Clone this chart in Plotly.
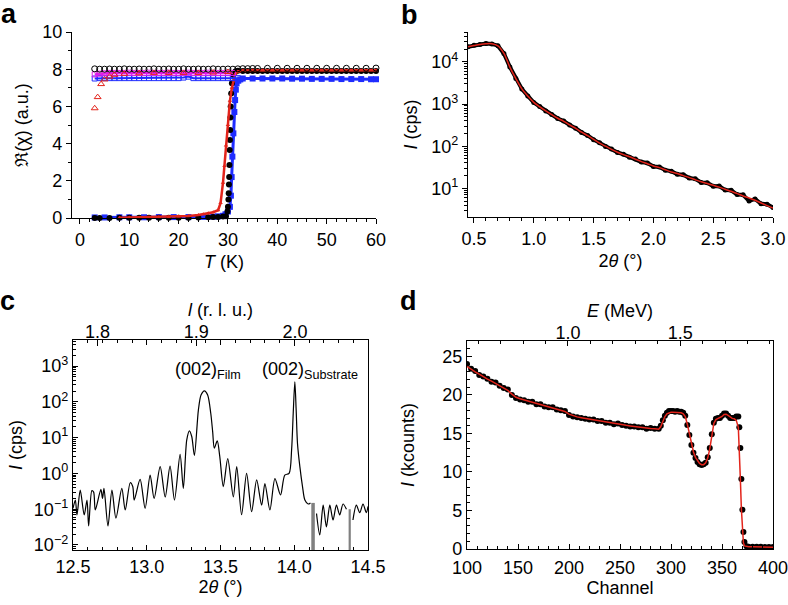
import plotly.graph_objects as go

# ---------------- Panel a: susceptibility vs T ----------------
a_blk_open_T = [3, 4, 5, 6, 7, 8, 9, 10, 11, 12, 13, 14, 15, 16, 17, 18, 19, 20, 21, 22, 23, 24, 25, 26, 27,
                28, 29, 30, 31, 32, 33, 34, 35, 36, 38, 40, 42, 44, 46, 48, 50, 52, 54, 56, 58, 60]
a_blk_open_v = [8.02, 8.0, 8.0, 8.01, 8.0, 8.0, 8.02, 8.0, 8.0, 8.01, 8.0, 8.0, 8.02, 8.0, 8.0, 8.01, 8.0, 8.0,
                8.02, 8.0, 8.0, 8.01, 8.0, 8.0, 8.02, 8.0, 8.0, 8.01, 8.0, 8.02, 8.03, 8.03, 8.04, 8.04, 8.05,
                8.05, 8.05, 8.05, 8.05, 8.05, 8.05, 8.05, 8.05, 8.05, 8.05, 8.06]

a_mag_T = [3, 4, 5, 6, 7, 8, 9, 10, 11, 12, 13, 14, 15, 16, 17, 18, 19, 20, 21, 22, 23, 24, 25, 26, 27, 28, 29, 30, 31]
a_mag_v = [7.72, 7.76, 7.78, 7.8, 7.8, 7.8, 7.8, 7.81, 7.8, 7.8, 7.8, 7.81, 7.8, 7.8, 7.8, 7.81, 7.8, 7.8, 7.8,
           7.81, 7.8, 7.8, 7.8, 7.81, 7.8, 7.8, 7.8, 7.81, 7.8]

a_blue_open_T = [3, 4, 5, 6, 7, 8, 9, 10, 11, 12, 13, 14, 15, 16, 17, 18, 19, 20, 21, 22, 23, 24, 25, 26, 27, 28, 29, 30, 31, 32]
a_blue_open_v = [7.5, 7.52, 7.52, 7.52, 7.52, 7.52, 7.52, 7.52, 7.52, 7.52, 7.52, 7.52, 7.52, 7.52, 7.52, 7.52,
                 7.52, 7.52, 7.55, 7.6, 7.52, 7.52, 7.52, 7.52, 7.52, 7.52, 7.52, 7.52, 7.52, 7.52]

a_red_tri_T = [3.0, 3.6, 4.3, 5.0, 6.0, 7.0, 9.0, 12.0, 15.0, 18.0, 21.0, 24.0, 27.0, 30.0]
a_red_tri_v = [5.9, 6.5, 7.2, 7.45, 7.6, 7.7, 7.75, 7.78, 7.8, 7.8, 7.8, 7.8, 7.82, 7.85]

a_blk_T = [3, 4, 6, 8, 10, 12, 14, 16, 18, 20, 22, 24, 26, 27, 28, 29, 29.6, 29.9, 30.0, 30.1, 30.15, 30.2,
           30.25, 30.3, 30.35, 30.4, 30.45, 30.5, 30.55, 30.65, 30.8, 31.1, 31.5, 32, 33, 34, 35, 36, 37, 38,
           39, 40, 41, 42, 43, 44, 45, 46, 47, 48, 49, 50, 51, 52, 53, 54, 55, 56, 57, 58, 59, 60]
a_blk_v = [0.0, 0.0, 0.0, 0.01, 0.01, 0.01, 0.01, 0.02, 0.02, 0.02, 0.02, 0.03, 0.04, 0.05, 0.06, 0.08, 0.1,
           0.35, 0.6, 1.0, 1.33, 1.8, 2.2, 2.85, 3.66, 4.2, 4.73, 5.4, 6.0, 6.7, 7.24, 7.69, 7.88, 7.92, 7.9,
           7.9, 7.9, 7.9, 7.9, 7.9, 7.9, 7.9, 7.9, 7.9, 7.9, 7.9, 7.9, 7.9, 7.9, 7.9, 7.9, 7.9, 7.9, 7.9,
           7.9, 7.9, 7.9, 7.9, 7.9, 7.9, 7.9, 7.9]

a_red_T = [8, 10, 12, 14, 16, 18, 20, 22, 24, 25, 26, 27, 28, 28.5, 29, 29.3, 29.6, 30, 30.4, 30.8, 31.1,
           31.5, 32, 33, 35, 37, 39, 41, 43, 45, 47, 49, 51, 53, 55, 57, 59, 60]
a_red_v = [0.02, 0.03, 0.03, 0.04, 0.05, 0.06, 0.08, 0.11, 0.16, 0.2, 0.25, 0.31, 0.42, 0.8, 1.9, 2.8, 3.9,
           5.0, 6.3, 7.0, 7.4, 7.75, 7.88, 7.93, 7.95, 7.95, 7.95, 7.95, 7.95, 7.95, 7.95, 7.95, 7.95, 7.95,
           7.95, 7.95, 7.95, 7.95]

a_blue_T = [3, 5, 8, 10, 13, 16, 19, 22, 25, 27, 28, 29, 29.5, 30, 30.4, 30.6, 30.75, 30.9, 31.1, 31.3,
            31.45, 31.6, 31.75, 32.1, 32.5, 33, 35, 37, 39, 41, 43, 45, 47, 49, 51, 53, 55, 57, 59, 60]
a_blue_v = [0.03, 0.03, 0.04, 0.04, 0.04, 0.05, 0.05, 0.05, 0.06, 0.07, 0.09, 0.12, 0.2, 0.35, 0.6, 1.2,
            2.2, 3.3, 4.55, 5.7, 6.34, 6.9, 7.24, 7.38, 7.45, 7.5, 7.5, 7.5, 7.5, 7.5, 7.49, 7.49, 7.48,
            7.48, 7.48, 7.47, 7.47, 7.47, 7.46, 7.46]

# ---------------- Panel b: reflectivity ----------------
b_theta = [0.45, 0.50, 0.55, 0.60, 0.65, 0.70, 0.75, 0.80, 0.85, 0.90, 0.95, 1.00, 1.05, 1.10, 1.15, 1.20,
           1.25, 1.30, 1.35, 1.40, 1.45, 1.50, 1.55, 1.60, 1.65, 1.70, 1.75, 1.80, 1.85, 1.90, 1.95, 2.00,
           2.05, 2.10, 2.15, 2.20, 2.25, 2.30, 2.35, 2.40, 2.45, 2.50, 2.55, 2.60, 2.65, 2.70, 2.75, 2.80,
           2.85, 2.90, 2.95, 3.00]
b_fit = [23000, 24500, 26000, 27000, 27000, 24000, 16000, 7500, 4000, 2300, 1550, 1100, 860, 690, 560, 460,
         390, 320, 265, 215, 178, 145, 118, 100, 84, 72, 63, 56, 49, 43, 38.5, 34, 31, 27.5, 24.5, 22.5,
         20, 18, 16, 14.3, 13, 11.8, 10.7, 9.5, 8.5, 7.5, 6.6, 5.9, 5.2, 4.5, 3.9, 3.4]
b_data = [22800, 24700, 26000, 27200, 26800, 24300, 15800, 7600, 4050, 2280, 1560, 1090, 870, 680, 565, 455,
          395, 318, 268, 212, 180, 143, 120, 98, 86, 71, 64, 55, 50, 42, 40, 33, 32, 27, 25.5, 21.5, 21,
          17.5, 16.8, 13.8, 13.6, 11.2, 11.3, 9.1, 9.0, 7.1, 7.0, 5.0, 5.6, 4.3, 4.2, 3.5]

# ---------------- Panel c: XRD ----------------
c_2theta = [12.500, 12.516, 12.527, 12.549, 12.576, 12.595, 12.606, 12.628, 12.640, 12.651, 12.689, 12.700,
            12.710, 12.737, 12.764, 12.791, 12.831, 12.854, 12.888, 12.905, 12.915, 12.955, 12.989, 13.023,
            13.050, 13.091, 13.125, 13.158, 13.188, 13.226, 13.248, 13.271, 13.289, 13.305, 13.323, 13.350,
            13.368, 13.391, 13.413, 13.434, 13.447, 13.458, 13.478, 13.495, 13.519, 13.549, 13.587, 13.610,
            13.643, 13.677, 13.711, 13.745, 13.779, 13.801, 13.835, 13.869, 13.907, 13.936, 13.965, 13.982,
            13.993, 14.004, 14.013, 14.022, 14.038, 14.056, 14.072, 14.094, 14.110, 14.123, 14.132, 14.151,
            14.173, 14.196, 14.218, 14.241, 14.263, 14.286, 14.308, 14.331, 14.354, 14.376, 14.398, 14.421,
            14.444, 14.466, 14.489, 14.500]
c_I = [0.106, 0.18, 0.069, 0.34, 0.069, 0.18, 0.034, 0.33, 0.30, 0.095, 0.36, 0.20, 0.38, 0.034, 0.34, 0.056,
       0.38, 0.095, 0.55, 0.43, 0.18, 0.68, 0.106, 0.9, 0.2, 1.55, 0.22, 1.6, 0.18, 3.4, 0.38, 8.5, 15.5, 10.8,
       3.2, 59, 155, 204, 155, 48, 14.5, 5.1, 8.1, 3.0, 0.43, 2.6, 0.22, 1.55, 0.07, 1.0, 0.085, 0.66, 0.13,
       0.52, 0.095, 0.72, 0.25, 0.9, 1.0, 4.5, 48, 363, 59, 6.9, 1.55, 0.43, 0.18, 0.14, 0.15, 0.0, 0.0,
       0.076, 0.019, 0.13, 0.032, 0.13, 0.05, 0.13, 0.069, 0.14, 0.1, 0.0, 0.05, 0.13, 0.08, 0.14, 0.08, 0.12]
c_l_ticks = [1.8, 1.9, 2.0]

# ---------------- Panel d: RBS ----------------
d_ch = [100, 104, 108, 112, 116, 120, 124, 128, 132, 136, 140, 144, 148, 152, 156, 160, 164, 168, 172, 176,
        180, 184, 188, 192, 196, 200, 204, 208, 212, 216, 220, 224, 228, 232, 236, 240, 244, 248, 252, 256,
        260, 264, 268, 272, 276, 280, 284, 288, 290, 292, 294, 296, 298, 300, 302, 304, 306, 308, 310, 312,
        314, 316, 318, 320, 322, 324, 326, 328, 330, 332, 334, 336, 338, 340, 342, 344, 346, 348, 350, 352,
        354, 356, 358, 360, 362, 364, 366, 367, 368, 369, 370, 371, 372, 374, 376, 380, 384, 388, 392, 396, 400]
d_data = [24.0, 23.4, 23.1, 22.6, 22.4, 22.1, 21.7, 21.6, 21.2, 20.9, 20.7, 20.0, 19.6, 19.4, 19.3, 19.1,
          19.1, 18.8, 18.8, 18.5, 18.4, 18.4, 18.1, 18.0, 17.9, 17.4, 17.2, 17.1, 17.0, 16.9, 16.8, 16.8,
          16.6, 16.6, 16.4, 16.4, 16.2, 16.3, 16.1, 16.0, 15.9, 15.9, 15.8, 15.8, 15.6, 15.7, 15.6, 15.6,
          16.0, 16.7, 17.3, 17.7, 17.9, 17.9, 17.9, 17.8, 17.9, 17.8, 17.8, 17.7, 17.3, 16.1, 14.8, 13.5,
          12.5, 11.8, 11.3, 11.0, 10.9, 11.0, 11.2, 11.9, 13.1, 14.9, 16.4, 16.9, 17.0, 17.0, 17.3, 17.6,
          17.6, 17.3, 17.0, 17.0, 17.0, 17.2, 17.2, 15.8, 13.1, 9.1, 5.1, 2.2, 0.9, 0.35, 0.3, 0.3, 0.3,
          0.28, 0.27, 0.26, 0.25]
d_fit = [23.7, 23.3, 23.0, 22.7, 22.35, 22.05, 21.8, 21.5, 21.25, 21.0, 20.6, 20.1, 19.7, 19.5, 19.35, 19.2,
         19.05, 18.9, 18.75, 18.6, 18.45, 18.3, 18.2, 18.05, 17.85, 17.5, 17.3, 17.15, 17.05, 16.95, 16.85,
         16.75, 16.7, 16.6, 16.5, 16.4, 16.3, 16.22, 16.15, 16.05, 15.98, 15.9, 15.82, 15.75, 15.7, 15.65,
         15.6, 15.55, 15.9, 16.6, 17.2, 17.55, 17.7, 17.75, 17.75, 17.75, 17.72, 17.7, 17.68, 17.55, 17.2,
         16.2, 14.9, 13.6, 12.6, 11.9, 11.4, 11.1, 10.95, 10.95, 11.2, 11.8, 13.0, 14.8, 16.3, 16.8, 16.95,
         17.0, 17.2, 17.45, 17.5, 17.35, 17.1, 16.95, 16.9, 16.7, 15.8, 13.0, 9.1, 5.2, 2.2, 0.8, 0.4, 0.3,
         0.29, 0.28, 0.27, 0.26, 0.25, 0.24, 0.22]
d_E_ticks = [1.0, 1.5]

RED = "#e3241b"
BLUE = "#1f2cff"
MAG = "#e21ee6"
FONT = "Liberation Sans, Arial, Helvetica, sans-serif"

fig = go.Figure()


def add(x, y, xa, ya, **kw):
    fig.add_trace(go.Scatter(x=x, y=y, xaxis=xa, yaxis=ya, hoverinfo="skip", showlegend=False, **kw))


# panel a traces
add(a_blue_T, a_blue_v, "x", "y", mode="lines+markers", line=dict(color=BLUE, width=3),
    marker=dict(color=BLUE, size=6, symbol="square"), cliponaxis=False)
add(a_blk_T, a_blk_v, "x", "y", mode="markers", marker=dict(color="black", size=6), cliponaxis=False)
add(a_red_T, a_red_v, "x", "y", mode="lines+markers", line=dict(color=RED, width=2.5),
    marker=dict(color=RED, size=4, symbol="triangle-up"), cliponaxis=False)
add(a_blue_open_T, a_blue_open_v, "x", "y", mode="lines+markers", line=dict(color=BLUE, width=2),
    marker=dict(color=BLUE, size=5, symbol="square-open"), cliponaxis=False)
add(a_mag_T, a_mag_v, "x", "y", mode="lines+markers", line=dict(color=MAG, width=2.5),
    marker=dict(color=MAG, size=5, symbol="square-open"), cliponaxis=False)
add(a_blk_open_T, a_blk_open_v, "x", "y", mode="markers",
    marker=dict(color="black", size=6, symbol="circle-open", line=dict(width=1)), cliponaxis=False)
add(a_red_tri_T, a_red_tri_v, "x", "y", mode="markers",
    marker=dict(color=RED, size=6, symbol="triangle-up-open", line=dict(width=1)), cliponaxis=False)

# panel b traces
add(b_theta, b_data, "x2", "y2", mode="lines+markers", line=dict(color="black", width=4),
    marker=dict(color="black", size=5))
add(b_theta, b_fit, "x2", "y2", mode="lines", line=dict(color=RED, width=1.5, shape="spline"))

# panel c traces
c_main_y = [v if v > 0 else None for v in c_I]
add(c_2theta, c_main_y, "x3", "y3", mode="lines", line=dict(color="black", width=1.2, shape="spline",
                                                             smoothing=0.8))
drop_x, drop_y = [], []
for i, v in enumerate(c_I):
    if v == 0:
        prev = next((c_I[j] for j in range(i - 1, -1, -1) if c_I[j] > 0), 0.1)
        drop_x += [c_2theta[i], c_2theta[i], None]
        drop_y += [prev, 10 ** -3, None]
add(drop_x, drop_y, "x3", "y3", mode="lines", line=dict(color="#808080", width=2.2))
# invisible anchor for top axis of c
add(c_l_ticks, [1, 1, 1], "x5", "y3", mode="markers", marker=dict(opacity=0))

# panel d traces
add(d_ch, d_data, "x4", "y4", mode="markers", marker=dict(color="black", size=6))
add(d_ch, d_fit, "x4", "y4", mode="lines", line=dict(color=RED, width=1.5))
add(d_E_ticks, [1, 1], "x6", "y4", mode="markers", marker=dict(opacity=0))

FS = 18
tickfont = dict(family=FONT, size=FS, color="black")
titlefont = dict(family=FONT, size=FS, color="black")


def log_minor(lo, hi):
    vals = []
    for e in range(lo, hi + 1):
        for k in range(2, 10):
            vals.append(k * 10 ** e)
    return vals


def sup(e):
    s = str(e).replace("-", "\u2212")
    return "10<sup>" + s + "</sup>"


common = dict(showline=True, linecolor="black", linewidth=1.3, showgrid=False, zeroline=False,
              tickcolor="black", tickwidth=1.2, tickfont=tickfont, automargin=False,
              ticklabeloverflow="allow")

fig.update_layout(
    width=788, height=605, margin=dict(l=0, r=0, t=0, b=0, autoexpand=False),
    paper_bgcolor="white", plot_bgcolor="white", showlegend=False,
    font=dict(family=FONT, size=FS, color="black"),
    # panel a
    xaxis=dict(domain=[72 / 788, 376 / 788], anchor="y", range=[-1.6, 60], tickvals=[0, 10, 20, 30, 40, 50, 60],
               ticks="outside", ticklen=5, minor=dict(dtick=2, ticks="outside", ticklen=3, tickcolor="black"),
               title=dict(text="<i>T</i> (K)", font=titlefont, standoff=6), **common),
    yaxis=dict(domain=[1 - 218 / 605, 1 - 32 / 605], anchor="x", range=[0, 10], tickvals=[0, 2, 4, 6, 8, 10],
               ticks="outside", ticklen=5, minor=dict(dtick=1, ticks="outside", ticklen=3, tickcolor="black"),
               title=dict(text="\u211c(\u03c7) (a.u.)", font=titlefont, standoff=8), **common),
    # panel b
    xaxis2=dict(domain=[468 / 788, 773 / 788], anchor="y2", range=[0.45, 3.0],
                tickvals=[0.5, 1.0, 1.5, 2.0, 2.5, 3.0], tickformat=".1f",
                ticks="outside", ticklen=5, minor=dict(dtick=0.1, ticks="outside", ticklen=3, tickcolor="black"),
                title=dict(text="2<i>\u03b8</i> (\u00b0)", font=titlefont, standoff=6), **common),
    yaxis2=dict(domain=[1 - 217 / 605, 1 - 32 / 605], anchor="x2", type="log", range=[0.32, 4.71],
                tickvals=[10, 100, 1000, 10000], ticktext=[sup(1), sup(2), sup(3), sup(4)],
                ticks="outside", ticklen=5,
                minor=dict(tickvals=log_minor(0, 4), ticks="outside", ticklen=3, tickcolor="black"),
                title=dict(text="<i>I</i> (cps)", font=titlefont, standoff=8), **common),
    # panel c
    xaxis3=dict(domain=[73 / 788, 368 / 788], anchor="y3", range=[12.5, 14.5],
                tickvals=[12.5, 13.0, 13.5, 14.0, 14.5], tickformat=".1f", mirror="allticks",
                ticks="inside", ticklen=5, minor=dict(dtick=0.1, ticks="inside", ticklen=3, tickcolor="black"),
                title=dict(text="2<i>\u03b8</i> (\u00b0)", font=titlefont, standoff=1), **common),
    xaxis5=dict(overlaying="x3", anchor="y3", side="top", range=[1.7753, 2.0739], tickvals=c_l_ticks,
                tickformat=".1f", ticks="inside", ticklen=6, ticklabelstandoff=-6,
                title=dict(text="<i>l</i> (r. l. u.)", font=titlefont, standoff=0), **common),
    yaxis3=dict(domain=[1 - 550 / 605, 1 - 340 / 605], anchor="x3", type="log", range=[-2.14, 3.73],
                tickvals=[0.01, 0.1, 1, 10, 100, 1000], ticktext=[sup(-2), sup(-1), sup(0), sup(1), sup(2), sup(3)],
                ticks="inside", ticklen=5, mirror=True,
                minor=dict(tickvals=log_minor(-3, 3), ticks="inside", ticklen=3, tickcolor="black"),
                title=dict(text="<i>I</i> (cps)", font=titlefont, standoff=6), **common),
    # panel d
    xaxis4=dict(domain=[467 / 788, 773 / 788], anchor="y4", range=[100, 400],
                tickvals=[100, 150, 200, 250, 300, 350, 400], ticklabelstandoff=2,
                ticks="inside", ticklen=5, minor=dict(dtick=10, ticks="inside", ticklen=3, tickcolor="black"),
                title=dict(text="Channel", font=titlefont, standoff=0), **common),
    xaxis6=dict(overlaying="x4", anchor="y4", side="top", range=[0.55, 1.9136], tickvals=d_E_ticks,
                tickformat=".1f", ticks="inside", ticklen=5, ticklabelstandoff=-6,
                minor=dict(dtick=0.1, ticks="inside", ticklen=3, tickcolor="black"),
                title=dict(text="<i>E</i> (MeV)", font=titlefont, standoff=0), **common),
    yaxis4=dict(domain=[1 - 549 / 605, 1 - 341 / 605], anchor="x4", range=[0, 27],
                tickvals=[0, 5, 10, 15, 20, 25], mirror=True,
                ticks="inside", ticklen=5, minor=dict(dtick=1, ticks="inside", ticklen=3, tickcolor="black"),
                title=dict(text="<i>I</i> (kcounts)", font=titlefont, standoff=22), **common),
)

# panel letters
for letter, px, py in [("a", 8.5, 14), ("b", 410, 15), ("c", 7, 301), ("d", 408, 301)]:
    fig.add_annotation(text="<b>" + letter + "</b>", xref="paper", yref="paper", x=px / 788, y=1 - py / 605,
                       xanchor="center", yanchor="middle", showarrow=False,
                       font=dict(family=FONT, size=27, color="black"))

# peak labels in panel c
fig.add_annotation(text="(002)<sub>Film</sub>", xref="x3", yref="y3", x=13.415, y=2.87, showarrow=False,
                   xanchor="center", yanchor="middle", font=dict(family=FONT, size=FS, color="black"))
fig.add_annotation(text="(002)<sub>Substrate</sub>", xref="x3", yref="y3", x=14.11, y=2.87, showarrow=False,
                   xanchor="center", yanchor="middle", font=dict(family=FONT, size=FS, color="black"))

fig.write_html("out.html", config={"displayModeBar": False},
               post_script="document.body.style.margin='0';document.body.style.padding='0';")
